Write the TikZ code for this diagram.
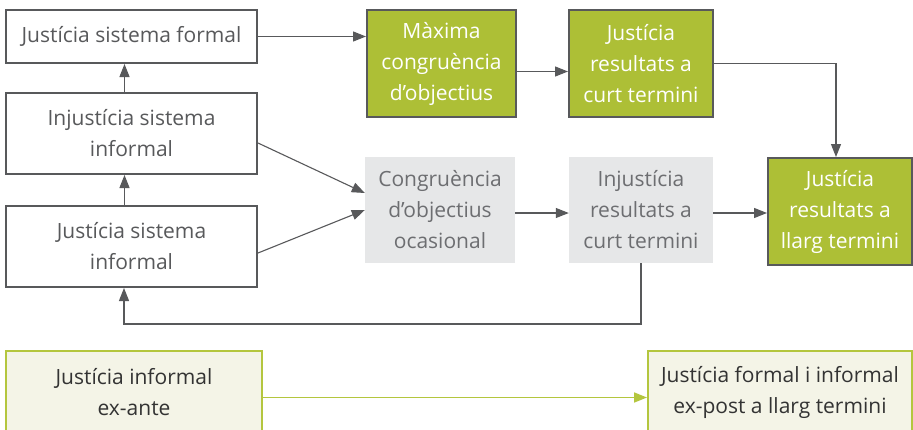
\documentclass[tikz,border=0pt]{standalone}
\usepackage{fontspec}
\setmainfont{Open Sans}
\usetikzlibrary{arrows.meta}

\definecolor{boxgrey}{HTML}{58595B}
\definecolor{leafgreen}{HTML}{ADBF36}
\definecolor{palegrey}{HTML}{E6E7E8}
\definecolor{textgrey}{HTML}{6D6E71}
\definecolor{cream}{HTML}{F4F4E7}
\definecolor{limeline}{HTML}{B4C63E}

\tikzset{
  plainbox/.style={draw=boxgrey,line width=2pt,fill=white,text=boxgrey,align=center,inner sep=0pt},
  greenbox/.style={draw=boxgrey,line width=2pt,fill=leafgreen,text=white,align=center,inner sep=0pt},
  greybox/.style={fill=palegrey,text=textgrey,align=center,inner sep=0pt},
  creambox/.style={draw=limeline,line width=2pt,fill=cream,text=black!80,align=center,inner sep=0pt},
  flow/.style={->,draw=boxgrey,line width=1.1pt},
  limeflow/.style={->,draw=limeline,line width=1.6pt},
}

\begin{document}
\begin{tikzpicture}[x=1pt,y=-1pt,>={Triangle[length=13pt,width=10pt]},
  font=\fontsize{21}{31}\selectfont]
\clip (0,0) rectangle (913,429);
\fill[white] (0,0) rectangle (913,429);
% left column
\node[plainbox,minimum width=251pt,minimum height=53pt] (JSF) at (131.5,36.5) {Justícia sistema formal};
\node[plainbox,minimum width=251pt,minimum height=81pt] (ISI) at (131.5,133.5) {Injustícia sistema\\informal};
\node[plainbox,minimum width=251pt,minimum height=81pt] (JSI) at (131.5,246.5) {Justícia sistema\\informal};
% upper row
\node[greenbox,minimum width=149pt,minimum height=107pt] (MCO) at (441.5,63.5) {Màxima\\congruència\\d’objectius};
\node[greenbox,minimum width=144pt,minimum height=107pt] (JCT) at (641,63.5) {Justícia\\resultats a\\curt termini};
% middle row
\node[greybox,minimum width=150pt,minimum height=106pt] (COO) at (440,210) {Congruència\\d’objectius\\ocasional};
\node[greybox,minimum width=144pt,minimum height=106pt] (ICT) at (641,210) {Injustícia\\resultats a\\curt termini};
\node[greenbox,minimum width=144pt,minimum height=107pt] (JLT) at (840,211.5) {Justícia\\resultats a\\llarg termini};
% bottom row
\node[creambox,minimum width=256pt,minimum height=82pt] (JIE) at (134,392) {Justícia informal\\ex-ante};
\node[creambox,minimum width=264pt,minimum height=82pt] (JFI) at (780,392) {Justícia formal i informal\\ex-post a llarg termini};

\draw[flow] (JSF.east) -- (JSF.east -| MCO.west);
\draw[flow] ([xshift=-7pt]ISI.north) -- ([xshift=-7pt]JSF.south);
\draw[flow] ([xshift=-7pt]JSI.north) -- ([xshift=-7pt]ISI.south);
\draw[flow] ([yshift=-8pt]MCO.east) -- ([yshift=-8pt]JCT.west);
\draw[flow] (JCT.east) -| ([xshift=-4pt]JLT.north);
\draw[flow] ([yshift=-9.5pt]ISI.east) -- ([yshift=17pt]COO.west);
\draw[flow] ([yshift=-6.5pt]JSI.east) -- (COO.west);
\draw[flow] ([yshift=-3pt]COO.east) -- ([yshift=-3pt]ICT.west);
\draw[flow] ([yshift=-3pt]ICT.east) -- ([yshift=-1.5pt]JLT.west);
\draw[flow] (ICT.south) |- (124,324) -- ([xshift=-7.5pt]JSI.south);
\draw[limeflow] ([yshift=-5.5pt]JIE.east) -- ([yshift=-5.5pt]JFI.west);
\end{tikzpicture}
\end{document}
